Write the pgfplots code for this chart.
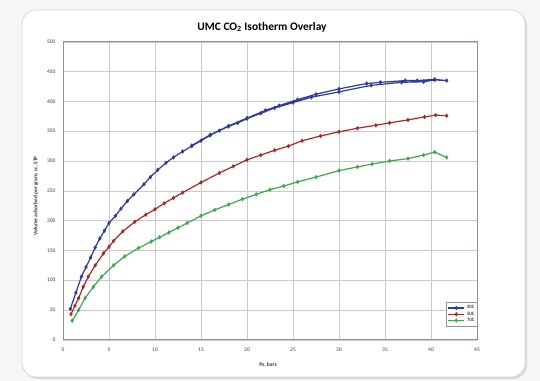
\documentclass[border=0pt]{standalone}
\usepackage{fontspec}
\setmainfont{Carlito}
\usepackage{pgfplots}
\pgfplotsset{compat=1.18}
\usetikzlibrary{shadows}
\definecolor{cblue}{RGB}{48,58,158}
\definecolor{cred}{RGB}{172,40,36}
\definecolor{cgreen}{RGB}{62,168,78}
\definecolor{gridc}{RGB}{210,198,198}
\definecolor{axisc}{RGB}{150,145,145}
\definecolor{bgc}{RGB}{244,246,248}
\definecolor{framec}{RGB}{214,218,224}
\definecolor{tickc}{RGB}{60,60,60}
\begin{document}
\begin{tikzpicture}
\fill[bgc] (0,0) rectangle (540bp,-381bp);
\useasboundingbox (0,0) rectangle (540bp,-381bp);
\draw[framec, fill=white, line width=0.8pt, rounded corners=14bp,
  drop shadow={shadow xshift=2bp, shadow yshift=-2bp, opacity=0.25}]
  (22bp,-10bp) rectangle (525bp,-377bp);
\begin{axis}[
  at={(63bp,-339.8bp)}, anchor=south west,
  scale only axis, width=414bp, height=298bp,
  xmin=0, xmax=45, ymin=0, ymax=500,
  xtick={0,5,...,45}, ytick={0,50,...,500},
  grid=major,
  grid style={color=gridc, line width=0.6pt},
  axis line style={color=axisc, line width=1pt},
  major tick length=0pt,
  tick label style={font=\fontsize{5.5}{6}\selectfont, text=tickc},
  /pgf/number format/assume math mode=true,
  xticklabel style={yshift=-5bp},
  yticklabel style={xshift=-4bp},
  legend style={at={(1.002,0.046)}, anchor=south east,
    font=\fontsize{5}{5}\selectfont, draw=axisc, line width=0.5pt,
    inner sep=1pt, row sep=-2.5pt, cells={anchor=west}},
  legend image code/.code={\draw[mark repeat=2,mark phase=2] plot coordinates {(0bp,0bp)(8bp,0bp)(16bp,0bp)};},
  every axis plot/.append style={line width=1.2pt, mark=diamond*, mark size=1.3pt},
]
\addplot[cblue, mark options={fill=cblue}] coordinates {
(0.8,52) (1.4,79) (2.0,106) (2.5,122) (3.0,138) (3.5,155) (4.0,170) (4.5,183)
(5.0,196) (5.7,208) (6.3,220) (7.0,233) (7.7,244) (8.8,261) (9.5,273) (10.3,285)
(11.2,297) (12.0,306) (13.0,316) (14.0,325) (15.0,334) (16.0,343) (17.0,351)
(18.0,358) (19.0,364) (20.0,371) (21.5,380) (23.0,389) (25.0,398) (27.0,407)
(30.0,416) (33.5,427) (36.8,432) (39.2,433) (40.4,436) (41.7,435)
(40.4,437) (38.5,435) (37.2,435) (34.5,432) (33.0,430) (30.0,421) (27.5,412)
(25.5,403) (23.5,393) (22.0,385) (20.0,372) (18.0,359) (16.0,344) (14.0,326)
};
\addlegendentry{30C}
\addplot[cred, mark options={fill=cred}] coordinates {
(0.87,43) (1.3,57) (1.7,70) (2.2,89) (2.75,106) (3.5,125) (4.4,145) (5.0,156)
(5.5,166) (6.5,182) (7.8,198) (9.0,210) (10.0,219) (11.0,229) (12.0,238)
(13.0,247) (15.0,264) (17.0,280) (18.5,291) (20.0,302) (21.5,310) (23.0,318)
(24.5,325) (26.0,334) (28.0,342) (30.0,349) (32.0,355) (34.0,360) (35.5,364)
(37.5,369) (39.3,374) (40.5,377) (41.7,376)
};
\addlegendentry{50C}
\addplot[cgreen, mark options={fill=cgreen}] coordinates {
(1.0,32) (1.7,50) (2.4,70) (3.3,89) (4.2,106) (5.5,125) (6.7,140) (8.2,154)
(9.6,165) (10.5,172) (11.5,180) (12.5,188) (13.5,196) (15.0,208) (16.5,218)
(18.0,227) (19.5,236) (21.0,244) (22.5,252) (24.0,258) (25.5,265) (27.5,273)
(30.0,284) (32.0,290) (33.6,295) (35.5,300) (37.5,304) (39.2,310) (40.4,315)
(41.7,306)
};
\addlegendentry{70C}
\end{axis}
\node[font=\bfseries\fontsize{11.5}{12}\selectfont] at (262bp,-27bp) {UMC CO\textsubscript{2} Isotherm Overlay};
\node[font=\bfseries\fontsize{5.5}{6}\selectfont, text=tickc] at (268bp,-365bp) {Ps, bars};
\node[font=\bfseries\fontsize{5.5}{6}\selectfont, text=tickc, rotate=90] at (36bp,-196bp) {Volume adsorbed per gram, cc, STP};
\end{tikzpicture}
\end{document}
